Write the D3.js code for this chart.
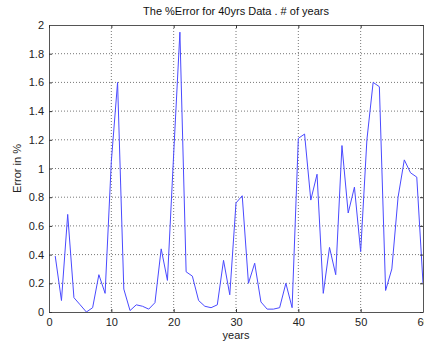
<!DOCTYPE html>
<html>
<head>
<meta charset="utf-8">
<script src="https://cdn.jsdelivr.net/npm/d3@7"></script>
<style>
  body { margin: 0; background: #fff; }
  svg { display: block; font-family: "Liberation Sans", Arial, sans-serif; }
</style>
</head>
<body>
<svg id="chart" width="424" height="343"></svg>
<script>
// values, one per year 1..60
const years = d3.range(1, 61);
const errorPct = [
  0.39, 0.08, 0.68, 0.10, 0.05, 0.00, 0.03, 0.26, 0.13, 1.05,
  1.60, 0.16, 0.01, 0.05, 0.04, 0.02, 0.065, 0.44, 0.22, 1.10,
  1.95, 0.28, 0.25, 0.08, 0.04, 0.03, 0.05, 0.36, 0.12, 0.76,
  0.81, 0.20, 0.34, 0.07, 0.02, 0.02, 0.03, 0.20, 0.03, 1.21,
  1.24, 0.78, 0.96, 0.13, 0.45, 0.26, 1.16, 0.69, 0.87, 0.42,
  1.20, 1.60, 1.57, 0.15, 0.30, 0.80, 1.06, 0.97, 0.94, 0.20
];
const xTicks = [0, 10, 20, 30, 40, 50, 60];
const yTicks = d3.range(0, 2.01, 0.2);

const margin = { top: 25, right: 1, bottom: 31, left: 49 };
const svg = d3.select('#chart');
const width = 424 - margin.left - margin.right;
const height = 343 - margin.top - margin.bottom;

const x = d3.scaleLinear().domain([0, 60]).range([0, width]);
const y = d3.scaleLinear().domain([0, 2]).range([height, 0]);

const g = svg.append('g')
  .attr('transform', 'translate(' + margin.left + ',' + margin.top + ')');

// dotted grid
g.append('g')
  .selectAll('line')
  .data(xTicks.slice(1, -1))
  .enter()
  .append('line')
  .attr('x1', d => x(d)).attr('x2', d => x(d))
  .attr('y1', 0).attr('y2', height)
  .attr('stroke', '#777')
  .attr('stroke-dasharray', '1,2');
g.append('g')
  .selectAll('line')
  .data(yTicks.slice(1, -1))
  .enter()
  .append('line')
  .attr('x1', 0).attr('x2', width)
  .attr('y1', d => y(d)).attr('y2', d => y(d))
  .attr('stroke', '#777')
  .attr('stroke-dasharray', '1,2');

// data line
const line = d3.line()
  .x((d, i) => x(years[i]))
  .y(d => y(d));
g.append('path')
  .datum(errorPct)
  .attr('fill', 'none')
  .attr('stroke', '#4a4aff')
  .attr('stroke-width', 1)
  .attr('d', line);

// axes, ticks pointing inward like matlab
const styleAxis = sel => {
  sel.select('.domain').attr('stroke', '#555');
  sel.selectAll('.tick line').attr('stroke', '#333');
  sel.selectAll('.tick text').attr('fill', '#222').style('font-size', '11px');
};
g.append('g')
  .attr('transform', 'translate(0,' + height + ')')
  .call(d3.axisBottom(x).tickValues(xTicks).tickSize(-3).tickSizeOuter(0).tickPadding(6))
  .call(styleAxis);
g.append('g')
  .call(d3.axisLeft(y).tickValues(yTicks).tickFormat(d3.format('~g')).tickSize(-3).tickSizeOuter(0).tickPadding(5))
  .call(styleAxis);
g.append('g')
  .call(d3.axisTop(x).tickValues(xTicks).tickSize(-3).tickSizeOuter(0).tickFormat(''))
  .call(styleAxis);
g.append('g')
  .attr('transform', 'translate(' + width + ',0)')
  .call(d3.axisRight(y).tickValues(yTicks).tickSize(-3).tickSizeOuter(0).tickFormat(''))
  .call(styleAxis);

// labels
svg.append('text')
  .attr('x', margin.left + width / 2)
  .attr('y', 15)
  .attr('text-anchor', 'middle')
  .style('font-size', '11px')
  .attr('fill', '#111')
  .text('The %Error for 40yrs Data . # of years');
svg.append('text')
  .attr('x', margin.left + width / 2)
  .attr('y', 339)
  .attr('text-anchor', 'middle')
  .style('font-size', '11px')
  .attr('fill', '#222')
  .text('years');
svg.append('text')
  .attr('transform', 'translate(21,' + (margin.top + height / 2) + ') rotate(-90)')
  .attr('text-anchor', 'middle')
  .style('font-size', '11px')
  .attr('fill', '#222')
  .text('Error in %');
</script>
</body>
</html>
